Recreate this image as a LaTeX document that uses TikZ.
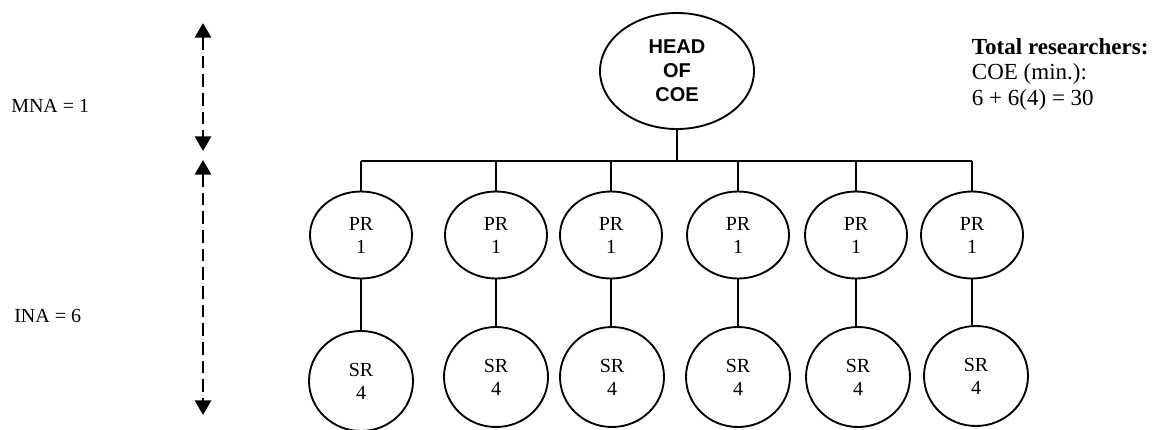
\documentclass[tikz,border=0pt]{standalone}
\usepackage{fontspec}
\setmainfont{Liberation Serif}
\newfontfamily\headfont{Liberation Sans}
\usetikzlibrary{shapes.geometric,arrows.meta}
\tikzset{
  oval/.style={draw, ellipse, line width=1.4pt, inner sep=0pt, align=center,
    font=\fontsize{15}{17.25}\selectfont},
  prbox/.style={oval, minimum width=76.5pt, minimum height=65.25pt},
  srbox/.style={oval, minimum width=78pt, minimum height=75pt},
  headbox/.style={oval, minimum width=115.5pt, minimum height=87pt,
    font=\headfont\bfseries\fontsize{15}{18}\selectfont},
  conn/.style={line width=1.2pt},
  dimarrow/.style={line width=2.2pt, dash pattern=on 9.5pt off 4.5pt,
    {Triangle[width=12pt,length=11pt]}-{Triangle[width=12pt,length=11pt]}},
  lbl/.style={inner sep=0pt, anchor=base west, font=\fontsize{15}{17.25}\selectfont},
  tot/.style={inner sep=0pt, anchor=base west, font=\fontsize{17.25}{18.75}\selectfont}
}
\begin{document}
\begin{tikzpicture}[x=0.75pt,y=-0.75pt]
\useasboundingbox (0,0) rectangle (1168,429);
% head
\node[headbox] (head) at (677,71) {HEAD\\OF\\COE};
% PR and SR
\foreach \i/\px/\sx/\sy in {1/361/361/381, 2/496/496/377, 3/611/612/377, 4/738/738/377, 5/856/858/377, 6/972/976/376}{
  \node[prbox] (pr\i) at (\px,235) {PR\\1};
  \node[srbox] (sr\i) at (\sx,\sy) {SR\\4};
}
\coordinate (bus) at (0,161);
\draw[conn] (pr1.north |- bus) -- (pr6.north |- bus);
\draw[conn] (head.south) -- (head.south |- bus);
\foreach \i in {1,...,6}{
  \draw[conn] (pr\i.north) -- (pr\i.north |- bus);
  \draw[conn] (pr\i.south) -- (pr\i.south |- sr\i.north);
}
% dimension arrows
\coordinate (a1) at (203,23);
\coordinate (a2) at (203,151);
\coordinate (b1) at (203,160);
\coordinate (b2) at (203,415);
\draw[dimarrow] (a1) -- (a2);
\draw[dimarrow] (b1) -- (b2);
% labels
\node[lbl] (mna) at (11,112.3) {MNA = 1};
\node[lbl] (ina) at (14,322.3) {INA = 6};
\node[tot, font=\bfseries\fontsize{17.25}{18.75}\selectfont] (tot1) at (971.7,54.3) {Total researchers:};
\node[tot] (tot2) at (971.7,79) {COE (min.):};
\node[tot] (tot3) at (971.7,105) {6 + 6(4) = 30};
\end{tikzpicture}
\end{document}
